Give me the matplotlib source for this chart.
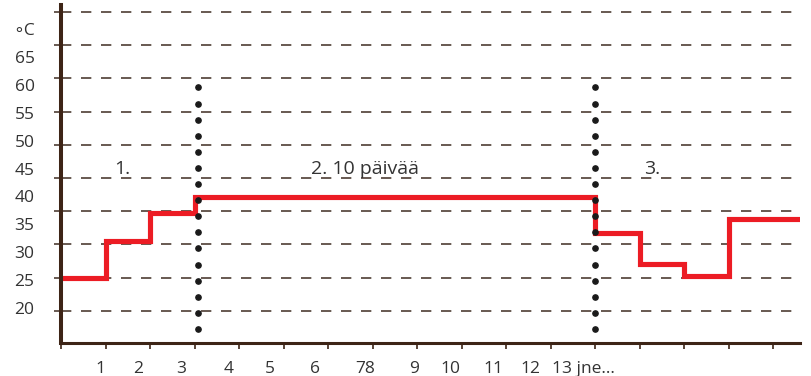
import numpy as np
import matplotlib
matplotlib.use("Agg")
import matplotlib.pyplot as plt

plt.rcParams['font.family'] = ['Open Sans', 'DejaVu Sans']

# Temperature scale labels (°C)
y_tick_values = [20, 25, 30, 35, 40, 45, 50, 55, 60, 65, 70]
y_tick_labels = ['20', '25', '30', '35', '40', '45', '50', '55', '60', '65', '\u2218C']

# Day labels along the bottom
x_label_pos = [0.89, 1.74, 2.71, 3.76, 4.70, 5.71, 6.83, 7.92, 8.74, 9.71, 10.54, 11.73]
x_labels = ['1', '2', '3', '4', '5', '6', '78', '9', '10', '11', '12', '13 jne...']

# Temperature programme: step edges (days) and level of each step (°C)
step_edges = [0, 1, 2, 3, 12, 13, 14, 15, 16.6]
step_temps = [25.33, 31.95, 37.13, 39.82, 33.43, 27.96, 25.69, 36.06]

# Phase boundaries and phase captions
phase_bounds = [3.08, 12.0]
phase_texts = ['1.', '2. 10 päivää', '3.']
phase_text_x = [1.37, 6.83, 13.28]
phase_text_y = 45.0

BROWN = '#3d2416'
GRID = '#4e3d33'
RED = '#ec1c24'
TEXT = '#333333'

fig = plt.figure(figsize=(8.11, 3.76), dpi=100)
ax = fig.add_axes([61 / 811, (376 - 343) / 376, (800 - 61) / 811, (343 - 5) / 376])

ax.set_xlim(0, 16.6)
ax.set_ylim(13.79, 74.25)

# dashed horizontal guide lines
grid_y = np.linspace(19.55, 73.0, 10)
for gy in grid_y:
    ax.axhline(gy, color=GRID, lw=1.2, linestyle=(0, (6.2, 5.8)), zorder=1, clip_on=False)

# temperature steps
ax.stairs(step_temps, step_edges, baseline=None, color=RED, lw=3.7, zorder=3,
          joinstyle='miter')

# dotted phase boundaries
for bx in phase_bounds:
    ax.plot(np.full(16, bx), np.linspace(16.3, 59.5, 16), linestyle='none',
            marker='o', ms=3.8, color='#1a1a1a', zorder=4)

for t, tx in zip(phase_texts, phase_text_x):
    ax.text(tx, phase_text_y, t, ha='center', va='center', fontsize=14, color=TEXT, zorder=5)

# axes styling
for s in ['top', 'right']:
    ax.spines[s].set_visible(False)
ax.spines['left'].set_linewidth(2.9)
ax.spines['left'].set_color(BROWN)
ax.spines['bottom'].set_linewidth(2.2)
ax.spines['bottom'].set_color(BROWN)
ax.spines['left'].set_zorder(6)
ax.spines['bottom'].set_zorder(6)

ax.set_yticks(y_tick_values)
ax.set_yticklabels(y_tick_labels)
ax.set_yticks(grid_y, minor=True)
ax.tick_params(axis='y', which='major', length=0, pad=19, labelsize=12.5, labelcolor=TEXT)
ax.tick_params(axis='y', which='minor', length=5, width=1.2, color=GRID, direction='out')

ax.set_xticks(x_label_pos)
ax.set_xticklabels(x_labels)
ax.set_xticks(np.arange(0, 17), minor=True)
ax.tick_params(axis='x', which='major', length=0, pad=13, labelsize=12.5, labelcolor=TEXT)
ax.tick_params(axis='x', which='minor', length=4, width=1.2, color=BROWN, direction='out')

fig.savefig('out.png', dpi=100)
